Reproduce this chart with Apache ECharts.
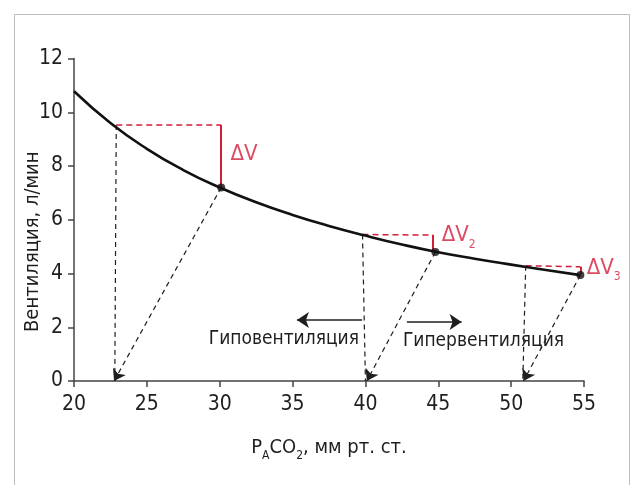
<!DOCTYPE html>
<html>
<head>
<meta charset="utf-8">
<script src="https://cdn.jsdelivr.net/npm/echarts@6/dist/echarts.min.js"></script>
<style>html,body{margin:0;padding:0;background:#fff}#c{width:632px;height:485px}</style>
</head>
<body>
<div id="c"></div>
<script>
// Curve (ventilation vs PACO2)
const curveX = [20, 22.5, 25, 27.5, 30, 32.5, 35, 37.5, 40, 42.5, 45, 47.5, 50, 52.5, 54.75];
const curveY = [10.78, 9.6, 8.64, 7.85, 7.2, 6.65, 6.18, 5.77, 5.41, 5.08, 4.79, 4.55, 4.33, 4.12, 3.94];
// Marked points on the curve
const dotX = [30.1, 44.8, 54.75];
const dotY = [7.2, 4.8, 3.94];
// Vertical dashed projections (from curve down to axis)
const vertFrom = [[22.9, 9.53], [39.8, 5.45], [51.0, 4.29]];
const vertTo = [[22.8, 0], [40.0, 0], [50.8, 0]];
// Diagonal dashed arrows (from marked points to axis)
const diagTo = [[22.75, 0], [40.1, 0], [50.85, 0]];
// Red dashed horizontals and red solid ΔV segments
const redTopY = [9.53, 5.43, 4.25];
const redX = [30.1, 44.65, 54.75];
// Direction arrows
const arrowHypo = [[39.77, 2.27], [35.3, 2.27]];
const arrowHyper = [[42.85, 2.2], [46.6, 2.2]];
// Labels
const deltaLabels = ['{d|ΔV}', '{d|ΔV}{s|2}', '{d|ΔV}{s|3}'];
const deltaPos = [[30.7, 8.43], [45.2, 5.41], [55.15, 4.2]];
const zoneLabels = ['Гиповентиляция', 'Гипервентиляция'];
const zonePos = [[34.4, 1.56], [48.1, 1.5]];
// Axes
const xMin = 20, xMax = 55, xStep = 5;
const yMin = 0, yMax = 12, yStep = 2;

const FONT = "'DejaVu Sans Condensed','Liberation Sans Narrow',sans-serif";
const RED = '#cf1f3a';
const INK = '#1e1e1e';

const chart = echarts.init(document.getElementById('c'), null, {renderer: 'canvas'});

const curve = curveX.map((x, i) => [x, curveY[i]]);
const dots = dotX.map((x, i) => [x, dotY[i]]);
const vert = vertFrom.map((p, i) => ({coords: [p, vertTo[i]]}));
const diag = dots.map((p, i) => ({coords: [p, diagTo[i]]}));
const redDash = vertFrom.map((p, i) => ({coords: [[p[0], p[1]], [redX[i], redTopY[i]]]}));
const redSolid = redX.map((x, i) => ({coords: [[x, redTopY[i]], [x, dotY[i] + 0.03]]}));

chart.setOption({
  animation: false,
  backgroundColor: '#fff',
  textStyle: {fontFamily: FONT},
  graphic: [{
    type: 'rect', left: 12, top: 12, shape: {width: 615, height: 500},
    style: {fill: 'none', stroke: '#bdbdbd', lineWidth: 1}, silent: true, z: -1
  }],
  grid: {left: 74, right: 48, top: 58.5, bottom: 104},
  xAxis: {
    type: 'value', min: xMin, max: xMax, interval: xStep,
    name: '{n|P}{s|A}{n|CO}{s|2}{n|, мм рт. ст.}',
    nameLocation: 'middle', nameGap: 53,
    nameTextStyle: {
      rich: {
        n: {fontFamily: FONT, fontSize: 20, color: INK, lineHeight: 28, verticalAlign: 'middle'},
        s: {fontFamily: FONT, fontSize: 12, color: INK, lineHeight: 28, verticalAlign: 'bottom'}
      }
    },
    axisLine: {show: true, onZero: false, lineStyle: {color: '#444', width: 1.5}},
    axisTick: {show: true, length: 6, lineStyle: {color: '#444', width: 1.5}},
    axisLabel: {fontFamily: FONT, fontSize: 21, color: INK, margin: 13},
    splitLine: {show: false}
  },
  yAxis: {
    type: 'value', min: yMin, max: yMax, interval: yStep,
    name: 'Вентиляция, л/мин',
    nameLocation: 'middle', nameGap: 31, nameMoveOverlap: false,
    nameTextStyle: {fontFamily: FONT, fontSize: 20, color: INK, padding: [0, 44, 0, 0]},
    axisLine: {show: true, onZero: false, lineStyle: {color: '#444', width: 1.5}},
    axisTick: {show: true, length: 6, lineStyle: {color: '#444', width: 1.5}},
    axisLabel: {fontFamily: FONT, fontSize: 21, color: INK, margin: 11},
    splitLine: {show: false}
  },
  series: [
    {
      type: 'lines', coordinateSystem: 'cartesian2d', z: 2,
      data: vert, symbol: ['none', 'none'],
      lineStyle: {color: INK, width: 1.2, type: [5, 4], opacity: 1}
    },
    {
      type: 'lines', coordinateSystem: 'cartesian2d', z: 2,
      data: diag, symbol: ['none', 'arrow'], symbolSize: 11,
      lineStyle: {color: INK, width: 1.2, type: [5, 4], opacity: 1}
    },
    {
      type: 'lines', coordinateSystem: 'cartesian2d', z: 3,
      data: redDash, symbol: ['none', 'none'],
      lineStyle: {color: RED, width: 1.5, type: [6, 4], opacity: 1}
    },
    {
      type: 'lines', coordinateSystem: 'cartesian2d', z: 3,
      data: redSolid, symbol: ['none', 'none'],
      lineStyle: {color: RED, width: 2, type: 'solid', opacity: 1}
    },
    {
      type: 'lines', coordinateSystem: 'cartesian2d', z: 3,
      data: [{coords: arrowHypo}, {coords: arrowHyper}], symbol: ['none', 'arrow'], symbolSize: [8, 12],
      lineStyle: {color: INK, width: 1.6, type: 'solid', opacity: 1}
    },
    {
      type: 'line', data: curve, smooth: 0.5, showSymbol: false, z: 4,
      lineStyle: {color: '#111', width: 2.6}
    },
    {
      type: 'scatter', data: dots, symbolSize: 8, z: 5,
      itemStyle: {color: '#111'}
    },
    {
      type: 'scatter', symbolSize: 1, z: 6, clip: false,
      data: deltaPos.map((p, i) => ({value: p, label: {formatter: deltaLabels[i]}})),
      itemStyle: {color: 'rgba(0,0,0,0)'},
      label: {
        show: true, position: 'right', distance: 0,
        rich: {
          d: {fontFamily: FONT, fontSize: 22, color: RED, lineHeight: 30, verticalAlign: 'middle'},
          s: {fontFamily: FONT, fontSize: 12, color: RED, lineHeight: 30, verticalAlign: 'bottom'}
        }
      }
    },
    {
      type: 'scatter', symbolSize: 1, z: 6,
      data: zonePos.map((p, i) => ({value: p, label: {formatter: zoneLabels[i]}})),
      itemStyle: {color: 'rgba(0,0,0,0)'},
      label: {show: true, position: 'inside', fontFamily: FONT, fontSize: 19, color: INK, textBorderWidth: 0, opacity: 1}
    }
  ]
});
</script>
</body>
</html>
